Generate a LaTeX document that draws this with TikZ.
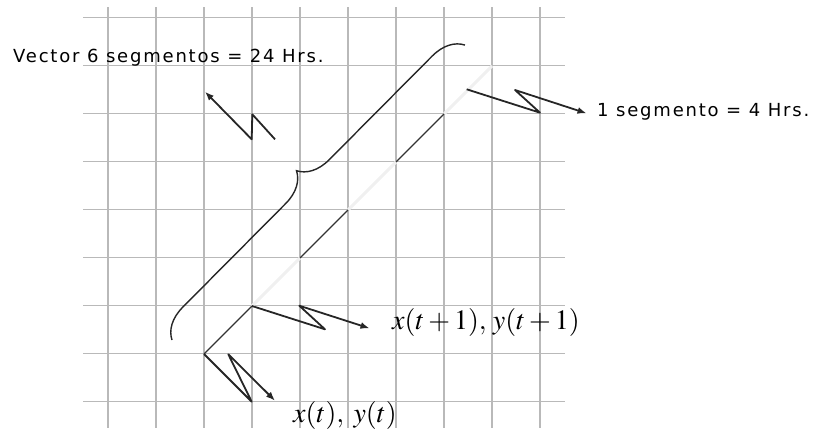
\documentclass[tikz,border=0pt]{standalone}
\usepackage{mathptmx}
\usepackage[no-math]{fontspec}
\newfontfamily\verd[LetterSpace=10]{DejaVu Sans}
\usetikzlibrary{arrows.meta,decorations.pathreplacing}
\begin{document}
\begin{tikzpicture}[x=1pt,y=-1pt,
    gridline/.style={gray!55,line width=1.2pt},
    zz/.style={black!85,line width=1.8pt,line join=round,-{Latex[length=9pt,width=7pt]}},
    seglab/.style={font=\verd\fontsize{18}{20}\selectfont,inner sep=0pt},
    mathlab/.style={font=\fontsize{28}{30}\selectfont,inner sep=0pt}]
    \useasboundingbox (0,0) rectangle (823,431);
    \foreach \i in {0,...,9}
      \draw[gridline] (108+48*\i,7) -- (108+48*\i,428);
    \foreach \j in {0,...,8}
      \draw[gridline] (83,17.7+48*\j) -- (565,17.7+48*\j);
    \foreach \i in {0,...,6}
      \coordinate (v\i) at (204+48*\i,354-48*\i);
    \foreach \i/\j in {1/2,3/4,5/6}
      \draw[gray!12,line width=3pt] (v\i)--(v\j);
    \foreach \i/\j in {0/1,2/3,4/5}
      \draw[black!80,line width=1.4pt] (v\i)--(v\j);
    \coordinate (b0) at (172,340);
    \coordinate (b1) at (465,45);
    \draw[black!85,line width=1.4pt,decorate,decoration={brace,amplitude=31pt}] (b0) -- (b1);
    \node[seglab,anchor=base west] (vec) at (13,62.5) {Vector 6 segmentos = 24 Hrs.};
    \node[seglab,anchor=base west] (seg) at (597,116.5) {1 segmento = 4 Hrs.};
    \node[mathlab,anchor=base west] (xt1) at (392,329.5) {$x(t+1),\,y(t+1)$};
    \node[mathlab,anchor=base west] (xt) at (293,422) {$x(t),\;y(t)$};
    \coordinate (tA) at (275,139.3);
    \coordinate (hA) at (205,91.7);
    \coordinate (tB) at (466.7,89.3);
    \coordinate (hB) at (586.5,113.3);
    \coordinate (hC) at (369.5,328.3);
    \coordinate (hD) at (275,400.7);
    \draw[zz] (tA) -- (252.3,114.3) -- (251.7,139.3) -- (hA);
    \draw[zz] (tB) -- (540,112.7) -- (515,90) -- (hB);
    \draw[zz] (v1) -- (325,329.3) -- (299.3,305.7) -- (hC);
    \draw[zz] (v0) -- (251.7,401.7) -- (228.3,354.3) -- (hD);
  \end{tikzpicture}
\end{document}
